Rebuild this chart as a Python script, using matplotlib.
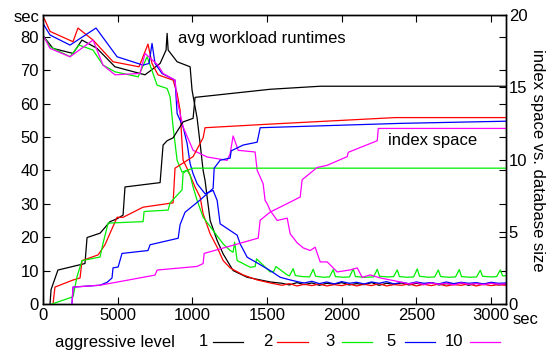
import matplotlib
matplotlib.use('Agg')
import matplotlib.pyplot as plt
from matplotlib.lines import Line2D

plt.rcParams['font.family'] = ['Liberation Sans', 'DejaVu Sans']
plt.rcParams['font.size'] = 12

# aggressive levels and their colours (gnuplot defaults)
levels = ['1', '2', '3', '5', '10']
colors = ['black', '#ff0000', '#00ee00', '#0000ff', '#ff00ff']

# ---- avg workload runtimes (left axis, sec) ----
rt1_t = [0, 67, 201, 261, 362, 482, 683, 784, 824, 831, 838, 898, 985, 998, 1032, 1052,
         1072, 1085, 1099, 1119, 1166, 1206, 1273, 1367, 1521,
         1600, 1650, 1700, 1750, 1800, 1850, 1900, 1950, 2000, 2050, 2100, 2150, 2200, 2250,
         2300, 2350, 2400, 2450, 2500, 2550, 2600, 2650, 2700, 2750, 2800, 2850, 2900, 2950,
         3000, 3050, 3100]
rt1_v = [80.3, 76.5, 75, 79, 76.5, 71, 68.6, 72, 76, 81, 76, 72.5, 71, 64, 55.6, 48,
         40, 37, 32, 25, 19, 15, 10, 8, 6.6,
         6.2, 5.7, 6.4, 5.8, 6.3, 5.6, 6.2, 5.9, 6.4, 5.7, 6.1, 5.8, 6.4, 5.6,
         6.2, 5.9, 6.3, 5.7, 6.2, 5.8, 6.4, 5.7, 6.1, 5.9, 6.3, 5.6, 6.2, 5.8,
         6.3, 5.7, 6.0]

rt2_t = [0, 13, 47, 201, 234, 335, 469, 643, 703, 730, 770, 871, 898, 918, 931, 938, 971,
         1018, 1052, 1072, 1119, 1166, 1206, 1253, 1340, 1434, 1521,
         1600, 1650, 1700, 1750, 1800, 1850, 1900, 1950, 2000, 2050, 2100, 2150, 2200, 2250,
         2300, 2350, 2400, 2450, 2500, 2550, 2600, 2650, 2700, 2750, 2800, 2850, 2900, 2950,
         3000, 3050, 3100]
rt2_v = [86, 85, 81.6, 78.5, 82.6, 79, 72.5, 71, 77.8, 72, 68.6, 67, 63, 58, 48, 43, 40,
         35, 32, 27, 21, 17, 13, 10.8, 8.7, 7.2, 6.3,
         5.6, 6.1, 5.4, 5.9, 5.5, 6.0, 5.4, 5.8, 5.5, 6.0, 5.4, 5.9, 5.5, 6.1,
         5.4, 5.8, 5.6, 6.0, 5.4, 5.9, 5.5, 6.0, 5.4, 5.8, 5.6, 6.0, 5.4, 5.9,
         5.5, 5.8, 5.6]

rt3_t = [0, 47, 181, 241, 335, 402, 482, 637, 697, 764, 831, 851, 871, 898, 931, 965, 985,
         1005, 1032, 1072, 1139, 1206, 1253, 1273, 1283, 1300, 1387, 1420, 1430, 1521, 1545,
         1560, 1635,
         1650, 1675, 1690, 1740, 1785, 1809, 1825, 1880, 1918, 1943, 1958, 2010, 2052, 2077,
         2092, 2150, 2213, 2238, 2253, 2310, 2347, 2372, 2387, 2440, 2481, 2506, 2521, 2580,
         2622, 2647, 2662, 2720, 2762, 2787, 2802, 2860, 2903, 2928, 2943, 3000, 3037, 3062,
         3077, 3100]
rt3_v = [80.5, 77, 74, 77.5, 76, 71.5, 69.5, 68, 74, 65.5, 64.5, 62, 53, 43, 39.5, 40, 38.6,
         35, 31, 26, 22, 18, 16, 15.5, 18.5, 13, 11, 11.2, 13.5, 9.6, 9.8,
         11.2, 8.7,
         8.4, 10.6, 8.5, 8.2, 8.1, 10.4, 8.3, 8.0, 8.1, 10.3, 8.2, 8.0, 8.1, 10.5,
         8.2, 8.0, 8.1, 10.4, 8.3, 8.1, 8.2, 10.2, 8.2, 8.0, 8.1, 10.5, 8.3, 8.0,
         8.1, 10.2, 8.2, 8.0, 8.1, 10.3, 8.2, 8.0, 8.1, 10.1, 8.3, 8.1, 8.2, 10.2,
         8.4, 8.5]

rt5_t = [0, 47, 181, 355, 496, 670, 710, 730, 750, 797, 884, 898, 938, 965, 985, 1005, 1032,
         1085, 1139, 1166, 1186, 1253, 1300, 1320, 1367, 1434, 1521, 1588, 1655, 1722,
         1750, 1800, 1850, 1900, 1950, 2000, 2050, 2100, 2150, 2200, 2250, 2300, 2350,
         2400, 2450, 2500, 2550, 2600, 2650, 2700, 2750, 2800, 2850, 2900, 2950, 3000,
         3050, 3100]
rt5_v = [84, 80.5, 77.5, 82.6, 74, 71.5, 72, 78, 72, 69, 67, 57, 53, 48, 42, 39, 36,
         33, 34, 31, 24, 22, 20.6, 18, 14, 12.3, 10, 8, 7.2, 6.5,
         6.3, 6.8, 6.1, 6.6, 6.0, 6.7, 6.2, 6.5, 6.0, 6.6, 6.2, 6.7, 6.0,
         6.5, 6.1, 6.6, 6.2, 6.4, 6.0, 6.6, 6.1, 6.5, 6.2, 6.4, 6.0, 6.5,
         6.2, 6.3]

rt10_t = [0, 47, 181, 335, 402, 482, 650, 683, 770, 804, 884, 898, 938, 1005, 1099, 1233,
          1253, 1273, 1307, 1420, 1434, 1474, 1487, 1501, 1521, 1568, 1635, 1655, 1702, 1742,
          1789, 1822, 1856, 1903, 1970, 2057, 2104, 2137, 2191, 2258, 2325, 2392,
          2450, 2500, 2550, 2600, 2650, 2700, 2750, 2800, 2850, 2900, 2950, 3000, 3050, 3100]
rt10_v = [80.5, 76.5, 74, 79, 71.5, 68.6, 69, 75, 71.5, 69, 67, 61, 53, 46, 44, 43,
          45, 50.3, 46, 45.5, 40, 36, 31, 30, 28, 25, 25.7, 21, 18.3, 16.8,
          16, 17, 12.6, 12.6, 9.6, 10.2, 10.8, 8, 8.7, 7.8, 7.2, 6.6,
          6.0, 6.4, 5.8, 6.3, 5.9, 6.2, 5.7, 6.3, 5.9, 6.1, 5.8, 6.2, 5.9, 6.0]

# ---- index space vs. database size (right axis) ----
ix1_t = [47, 54, 100, 281, 295, 382, 449, 496, 536, 549, 784, 804, 831, 871, 938, 1005,
         1018, 1521, 1856, 3100]
ix1_v = [0, 1.0, 2.35, 2.8, 4.6, 4.9, 5.7, 5.9, 6.15, 8.1, 8.4, 11.0, 11.3, 11.5, 12.6, 12.85,
         14.3, 14.86, 15.07, 15.07]

ix2_t = [67, 80, 201, 248, 261, 369, 415, 449, 496, 536, 670, 871, 884, 1005, 1072, 1085,
         1521, 2358, 3100]
ix2_v = [0, 1.17, 1.66, 1.8, 3.0, 3.4, 4.1, 4.9, 6.0, 6.0, 6.7, 7.0, 9.4, 10.2, 11.5, 12.2,
         12.45, 12.9, 12.9]

ix3_t = [60, 201, 228, 261, 382, 402, 436, 670, 677, 838, 851, 931, 938, 965, 1005, 3100]
ix3_v = [0, 0.5, 1.9, 3.0, 3.25, 4.2, 5.6, 5.7, 6.4, 6.5, 7.0, 7.9, 9.05, 9.26, 9.4, 9.4]

ix5_t = [194, 201, 382, 429, 462, 469, 503, 529, 703, 717, 905, 918, 951, 1052, 1139, 1146,
         1186, 1253, 1260, 1340, 1434, 1454, 2392, 3100]
ix5_v = [0, 1.17, 1.3, 1.5, 1.8, 2.5, 2.56, 3.5, 3.7, 4.1, 4.55, 5.5, 6.35, 7.2, 8.0, 9.4,
         9.95, 10.1, 10.6, 11.0, 11.2, 12.2, 12.5, 12.65]

ix10_t = [194, 201, 382, 750, 764, 1032, 1072, 1079, 1441, 1454, 1521, 1722, 1735, 1836,
          1903, 2037, 2044, 2238, 2245, 3100]
ix10_v = [0, 1.17, 1.3, 2.0, 2.35, 2.6, 2.8, 3.5, 4.56, 5.8, 6.36, 7.4, 8.6, 9.45,
          9.6, 10.2, 10.5, 11.3, 12.15, 12.15]

runtimes = [(rt1_t, rt1_v), (rt2_t, rt2_v), (rt3_t, rt3_v), (rt5_t, rt5_v), (rt10_t, rt10_v)]
spaces = [(ix1_t, ix1_v), (ix2_t, ix2_v), (ix3_t, ix3_v), (ix5_t, ix5_v), (ix10_t, ix10_v)]

W, H = 546, 350
fs = 12
fig = plt.figure(figsize=(W / 100, H / 100), dpi=100)
ax = fig.add_axes([43 / W, 46 / H, 463 / W, 289 / H])
ax2 = ax.twinx()

lw = 0.9
for (t, v), c in zip(runtimes, colors):
    ax.plot(t, v, color=c, lw=lw)
for (t, v), c in zip(spaces, colors):
    ax2.plot(t, v, color=c, lw=lw)

ax.set_xlim(0, 3100)
ax.set_ylim(0, 86.5)
ax2.set_ylim(0, 20)

xticks = [0, 500, 1000, 1500, 2000, 2500, 3000]
xlabels = ['0', '5000', '1000', '1500', '2000', '2500', '3000']
ax.set_xticks(xticks)
ax.set_xticklabels(xlabels)
ax.set_yticks([0, 10, 20, 30, 40, 50, 60, 70, 80])
ax2.set_yticks([0, 5, 10, 15, 20])

ax.tick_params(direction='in', length=5, width=0.8, top=True, right=True,
               labelsize=fs, pad=3, colors='black')
ax2.tick_params(direction='in', length=5, width=0.8, labelsize=fs, pad=2)
for a in (ax, ax2):
    for s in a.spines.values():
        s.set_linewidth(1.0)

fig.text(27 / W, 1 - 17 / H, 'sec', ha='center', va='center', fontsize=fs)
fig.text(526 / W, 1 - 319 / H, 'sec', ha='center', va='center', fontsize=fs)
fig.text(537 / W, 1 - 160 / H, 'index space vs. database size', rotation=270,
         ha='center', va='center', fontsize=fs)

ax.text(904, 79.6, 'avg workload runtimes', va='center', ha='left', fontsize=fs)
ax.text(2311, 49, 'index space', va='center', ha='left', fontsize=fs)

# legend row along the bottom
ly = 1 - 342 / H
fig.text(55 / W, ly, 'aggressive level', ha='left', va='center', fontsize=fs)
label_right = [208, 273, 335, 396, 463]
line_span = [(213, 243), (277, 308), (342, 372), (405, 435), (470, 500)]
for lab, c, xr, (x0, x1) in zip(levels, colors, label_right, line_span):
    fig.text(xr / W, ly, lab, ha='right', va='center', fontsize=fs)
    fig.add_artist(Line2D([x0 / W, x1 / W], [ly, ly], color=c, lw=lw))

fig.savefig('out.png', dpi=100)
